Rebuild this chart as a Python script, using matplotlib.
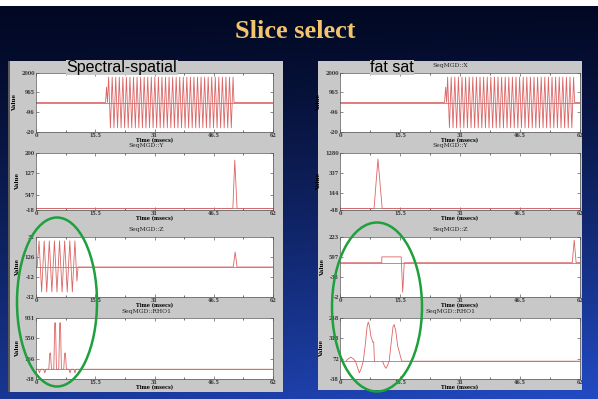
import numpy as np
import matplotlib
matplotlib.use('Agg')
import matplotlib.pyplot as plt
from matplotlib.patches import Ellipse, Rectangle
from matplotlib.ticker import MultipleLocator

W, H = 598, 399

# ── data (times in msecs, amplitudes in relative units) ──────────────────
TIME_TICKS = [0, 15.5, 31, 46.5, 62]
TIME_LABELS = ['0', '15.5', '31', '46.5', '62']

# readout lobes, same amplitudes for both sequences
READOUT_V = [0, 0, 0.52, 0,
             0.86, -0.86, 0.86, -0.86, 0.86, -0.86, 0.86, -0.86, 0.86, -0.86,
             0.86, -0.86, 0.86, -0.86, 0.86, -0.86, 0.86, -0.86, 0.86, -0.86,
             0.86, -0.86, 0.86, -0.86, 0.86, -0.86, 0.86, -0.86, 0.86, -0.86,
             0.86, -0.86, 0.86, -0.86, 0.86, -0.86, 0.86, -0.86, 0.86, -0.86,
             0.86, -0.86, 0.86, -0.86, 0.86, -0.86, 0.86, -0.86, 0.86, -0.86,
             0.86, -0.86, 0.86, -0.86, 0.86, -0.86, 0.86, -0.86, 0.86, -0.86,
             0.86, -0.86, 0.86, -0.86, 0.86, -0.86, 0.86, -0.86, 0.86, -0.86,
             0.86,
             0, 0]

# spectral-spatial (left)
SS_X_T = [0, 18.2, 18.45, 18.7,
          19.00, 19.47, 19.93, 20.40, 20.86, 21.33, 21.79, 22.26, 22.72, 23.19,
          23.65, 24.12, 24.58, 25.05, 25.51, 25.98, 26.44, 26.91, 27.37, 27.84,
          28.30, 28.77, 29.23, 29.70, 30.16, 30.63, 31.09, 31.56, 32.02, 32.49,
          32.95, 33.42, 33.88, 34.35, 34.81, 35.28, 35.74, 36.21, 36.67, 37.14,
          37.60, 38.07, 38.53, 39.00, 39.46, 39.93, 40.39, 40.86, 41.32, 41.79,
          42.25, 42.72, 43.18, 43.65, 44.11, 44.58, 45.04, 45.51, 45.97, 46.44,
          46.90, 47.37, 47.83, 48.30, 48.76, 49.23, 49.69, 50.16, 50.62, 51.09,
          51.55,
          51.8, 62]
SS_Y_T = [0, 51.5, 52.0, 52.6, 62]
SS_Y_V = [0, 0, 0.96, 0, 0]
SS_Z_T = [0, 0.3, 0.80, 1.47, 2.14, 2.81, 3.48, 4.15, 4.82, 5.49, 6.16, 6.83,
          7.50, 8.17, 8.84, 9.51, 10.18, 10.7, 11.0, 51.6, 52.1, 52.6, 62]
SS_Z_V = [0, 0, 0.87, -0.83, 0.87, -0.83, 0.87, -0.83, 0.87, -0.83, 0.87, -0.83,
          0.87, -0.83, 0.87, -0.83, 0.87, -0.47, 0, 0, 0.5, 0, 0]
SS_RF_T = [0, 0.6, 0.9, 1.2, 2.0, 2.3, 2.6, 3.35, 3.6, 3.8, 4.05, 4.65, 4.9,
           5.1, 5.35, 5.95, 6.2, 6.4, 6.65, 7.25, 7.5, 7.7, 7.95, 8.6, 8.9,
           9.2, 9.9, 10.2, 10.5, 62]
SS_RF_V = [0, 0, -0.075, 0, 0, -0.075, 0, 0, 0.33, 0.33, 0, 0, 0.95,
           0.95, 0, 0, 0.95, 0.95, 0, 0, 0.33, 0.33, 0, 0, -0.075,
           0, 0, -0.075, 0, 0]

# fat sat (right)
FS_X_T = [0, 27.0, 27.3, 27.55,
          27.80, 28.27, 28.73, 29.20, 29.66, 30.13, 30.59, 31.06, 31.52, 31.99,
          32.45, 32.92, 33.38, 33.85, 34.31, 34.78, 35.24, 35.71, 36.17, 36.64,
          37.10, 37.57, 38.03, 38.50, 38.96, 39.43, 39.89, 40.36, 40.82, 41.29,
          41.75, 42.22, 42.68, 43.15, 43.61, 44.08, 44.54, 45.01, 45.47, 45.94,
          46.40, 46.87, 47.33, 47.80, 48.26, 48.73, 49.19, 49.66, 50.12, 50.59,
          51.05, 51.52, 51.98, 52.45, 52.91, 53.38, 53.84, 54.31, 54.77, 55.24,
          55.70, 56.17, 56.63, 57.10, 57.56, 58.03, 58.49, 58.96, 59.42, 59.89,
          60.35,
          60.6, 62]
FS_Y_T = [0, 8.8, 9.8, 10.9, 62]
FS_Y_V = [0, 0, 0.98, 0, 0]
FS_Z_T = [0, 10.8, 10.8, 15.8, 16.2, 16.6, 60.0, 60.5, 61.0, 62]
FS_Z_V = [0, 0, 0.17, 0.17, -0.86, 0, 0, 0.66, 0, 0]
FS_RF1_T = [1.5, 2.0, 2.8, 3.4, 4.0, 4.5, 5.0, 5.5, 6.0, 6.5, 7.0, 7.3, 7.6,
            8.0, 8.3, 8.5, 8.7, 8.9]
FS_RF1_V = [0, 0.04, 0.08, 0.05, 0, -0.12, -0.23, -0.14, 0, 0.3, 0.68, 0.77,
            0.7, 0.48, 0.42, 0.37, 0.38, 0]
FS_RF2_T = [11.0, 11.5, 11.9, 12.3, 12.7, 13.2, 13.7, 14.0, 14.4, 14.9, 15.3,
            15.7, 16.0, 62]
FS_RF2_V = [0, -0.1, -0.14, -0.08, 0, 0.35, 0.68, 0.72, 0.6, 0.3, 0.19,
            0.07, 0, 0]

# y tick labels as printed on the scope plots
SS_X_TL = ['2000', '965', '-96', '-20']
SS_Y_TL = ['200', '127', '547', '-18']
SS_Z_TL = ['32', '126', '-12', '-32']
SS_RF_TL = ['931', '550', '166', '-38']
FS_X_TL = ['2000', '965', '-96', '-20']
FS_Y_TL = ['1280', '337', '144', '-48']
FS_Z_TL = ['223', '597', '-38', '-2']
FS_RF_TL = ['248', '318', '72', '-38']

# ── colours ─────────────────────────────────────────────────────────────
C_PANEL = '#c8c8c8'
C_WAVE = '#dc6464'
C_BASE = '#8a8a8a'
C_TITLE = '#f2c46d'
C_GREEN = '#1ea03c'
SERIF = 'DejaVu Serif'

fig = plt.figure(figsize=(W / 100, H / 100), dpi=100)


def px_axes(x0, y0, x1, y1, z=0):
    return fig.add_axes([x0 / W, 1 - y1 / H, (x1 - x0) / W, (y1 - y0) / H], zorder=z)


# ── background ──────────────────────────────────────────────────────────
bg = px_axes(0, 0, W, H, z=-5)
yy = np.linspace(0, 1, H)[:, None, None]
xx = np.linspace(0, 1, W)[None, :, None]
top = np.array([2, 8, 34]) / 255
bot = np.array([30, 66, 175]) / 255
img = np.clip(top + (bot - top) * yy ** 1.2 * (0.8 + 0.35 * xx), 0, 1)
bg.imshow(img, extent=(0, W, H, 0), aspect='auto')
bg.set_xlim(0, W)
bg.set_ylim(H, 0)
bg.axis('off')
bg.add_patch(Rectangle((0, 0), W, 6, fc='white', ec='none'))
bg.add_patch(Rectangle((8, 61), 275, 331, fc=C_PANEL, ec='none'))
bg.add_patch(Rectangle((8, 61), 2, 331, fc='#5a5a5a', ec='none'))
bg.add_patch(Rectangle((318, 61), 264, 329, fc=C_PANEL, ec='none'))
bg.text(295, 31, 'Slice select', ha='center', va='center', fontsize=19,
        fontweight='bold', family='Liberation Serif', color=C_TITLE)


def style(ax, ylim, yticks, ylabels):
    ax.set_xlim(0, 62)
    ax.set_ylim(*ylim)
    ax.axhline(0, color=C_BASE, lw=0.6, zorder=1)
    ax.set_xticks(TIME_TICKS)
    ax.set_xticklabels(TIME_LABELS, fontsize=3.5, family=SERIF, fontweight='bold')
    ax.xaxis.set_minor_locator(MultipleLocator(7.75))
    ax.set_yticks(yticks)
    ax.set_yticklabels(ylabels, fontsize=3.5, family=SERIF, fontweight='bold')
    ax.tick_params(direction='in', length=2, width=0.4, top=True, right=True, pad=0.8,
                   colors='#333333')
    ax.tick_params(which='minor', direction='in', length=1.4, width=0.4, top=True)
    ax.set_xlabel('Time (msecs)', fontsize=3.5, family=SERIF, fontweight='bold', labelpad=0)
    ax.set_ylabel('Value', fontsize=4, family=SERIF, fontweight='bold', labelpad=3)
    for s in ax.spines.values():
        s.set_linewidth(0.5)
        s.set_color('#555555')


def wave(ax, t, v):
    ax.plot(t, v, color=C_WAVE, lw=0.6, zorder=2)


ROWS = [(73, 132), (153, 210), (237, 297), (318, 379)]

# left column
L0, L1 = 36, 273
ax = px_axes(L0, ROWS[0][0], L1, ROWS[0][1])
style(ax, (-1, 1), [1, 0.36, -0.32, -1], SS_X_TL)
wave(ax, SS_X_T, READOUT_V)
ax = px_axes(L0, ROWS[1][0], L1, ROWS[1][1])
style(ax, (-0.03, 1.1), [1.1, 0.70, 0.27, -0.03], SS_Y_TL)
wave(ax, SS_Y_T, SS_Y_V)
ax = px_axes(L0, ROWS[2][0], L1, ROWS[2][1])
style(ax, (-1, 1), [1, 0.33, -0.33, -1], SS_Z_TL)
wave(ax, SS_Z_T, SS_Z_V)
ax = px_axes(L0, ROWS[3][0], L1, ROWS[3][1])
style(ax, (-0.2, 1.05), [1.05, 0.64, 0.21, -0.2], SS_RF_TL)
wave(ax, SS_RF_T, SS_RF_V)

# right column
R0, R1 = 340, 580
ax = px_axes(R0, ROWS[0][0], R1, ROWS[0][1])
style(ax, (-1, 1), [1, 0.36, -0.32, -1], FS_X_TL)
wave(ax, FS_X_T, READOUT_V)
ax = px_axes(R0, ROWS[1][0], R1, ROWS[1][1])
style(ax, (-0.03, 1.1), [1.1, 0.70, 0.30, -0.03], FS_Y_TL)
wave(ax, FS_Y_T, FS_Y_V)
ax = px_axes(R0, ROWS[2][0], R1, ROWS[2][1])
style(ax, (-1, 0.75), [0.75, 0.17, -0.42, -1], FS_Z_TL)
wave(ax, FS_Z_T, FS_Z_V)
ax = px_axes(R0, ROWS[3][0], R1, ROWS[3][1])
style(ax, (-0.35, 0.85), [0.85, 0.45, 0.05, -0.35], FS_RF_TL)
wave(ax, FS_RF1_T, FS_RF1_V)
wave(ax, FS_RF2_T, FS_RF2_V)

# ── overlay: plot titles, annotations, ellipses ─────────────────────────
ov = px_axes(0, 0, W, H, z=10)
ov.set_xlim(0, W)
ov.set_ylim(H, 0)
ov.axis('off')
ov.patch.set_alpha(0)

TITLE_Y = [65, 146, 230, 312]
NAMES = ['SeqMGD::X', 'SeqMGD::Y', 'SeqMGD::Z', 'SeqMGD::RHO1']
for cx in (146, 450):
    for y, name in zip(TITLE_Y, NAMES):
        if cx == 146 and name == 'SeqMGD::X':
            continue  # hidden under the "Spectral-spatial" label
        ov.text(cx, y, name, ha='center', va='center', fontsize=4.3, family=SERIF,
                color='#222222')

ov.text(122, 67.5, 'Spectral-spatial', ha='center', va='center', fontsize=11.5,
        family='Liberation Sans', color='black',
        bbox=dict(fc=C_PANEL, ec='none', pad=0.3))
ov.text(392, 67.5, 'fat sat', ha='center', va='center', fontsize=11.5,
        family='Liberation Sans', color='black',
        bbox=dict(fc=C_PANEL, ec='none', pad=0.3))

ov.add_patch(Ellipse((57, 302), 80, 169, fill=False, ec=C_GREEN, lw=1.8))
ov.add_patch(Ellipse((377, 307), 90, 169, fill=False, ec=C_GREEN, lw=1.8))

fig.savefig('out.png', dpi=100)
